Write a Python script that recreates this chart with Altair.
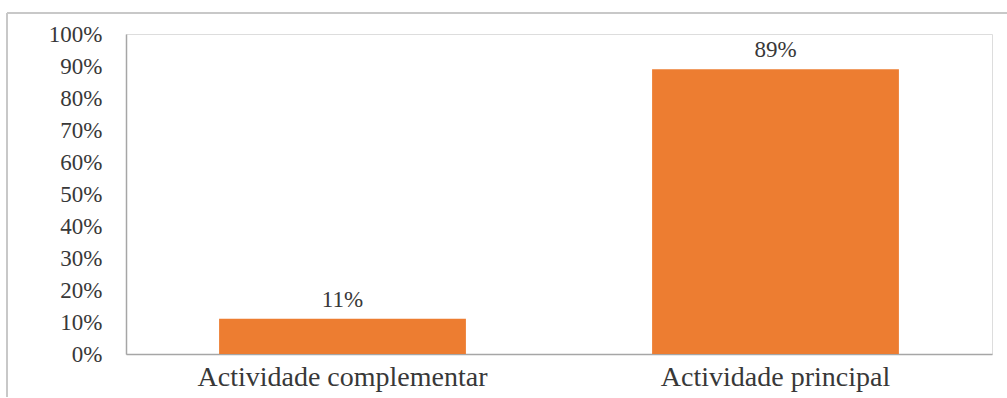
import altair as alt
import pandas as pd

categories = ["Actividade complementar", "Actividade principal"]
values = [11, 89]
labels = ["11%", "89%"]

df = pd.DataFrame({"cat": categories, "val": values, "lab": labels})

FONT = "Liberation Serif"
TXT = "#383838"

x_enc = alt.X("cat:N", sort=categories, title=None,
              scale=alt.Scale(paddingInner=0.43, paddingOuter=0.215),
              axis=alt.Axis(labelAngle=0, labelFont=FONT, labelFontSize=28,
                            labelColor=TXT, labelPadding=9, ticks=False,
                            labelLimit=0, labelOverlap=False,
                            domainColor="#a6a6a6", domainWidth=1.5))
y_enc = alt.Y("val:Q", title=None,
              scale=alt.Scale(domain=[0, 100], nice=False),
              axis=alt.Axis(values=list(range(0, 101, 10)),
                            labelExpr="datum.value + '%'",
                            labelFont=FONT, labelFontSize=23, labelColor=TXT,
                            labelPadding=24, ticks=False, grid=False,
                            labelOverlap=False, labelLimit=0,
                            domainColor="#a6a6a6", domainWidth=1.5))

base = alt.Chart(df).encode(x=x_enc, y=y_enc)

bars = base.mark_bar(color="#ED7D31")

text = base.mark_text(dy=-19, font=FONT, fontSize=23, color=TXT).encode(
    text="lab:N",
)

border_top = alt.Chart(df).mark_rule(color="#c8c8c8", strokeWidth=2).encode(
    x=alt.value(-119), x2=alt.value(890), y=alt.value(-21))
border_left = alt.Chart(df).mark_rule(color="#c8c8c8", strokeWidth=2).encode(
    x=alt.value(-119), y=alt.value(-21), y2=alt.value(400))

chart = alt.layer(border_top, border_left, bars, text).properties(
    width=866, height=320,
    autosize=alt.AutoSizeParams(type="none"),
    padding={"left": 126, "top": 34, "right": 15, "bottom": 43},
).configure_view(stroke=None).configure(background="white")

chart.save("out.html", embed_options={"renderer": "svg", "actions": False})
